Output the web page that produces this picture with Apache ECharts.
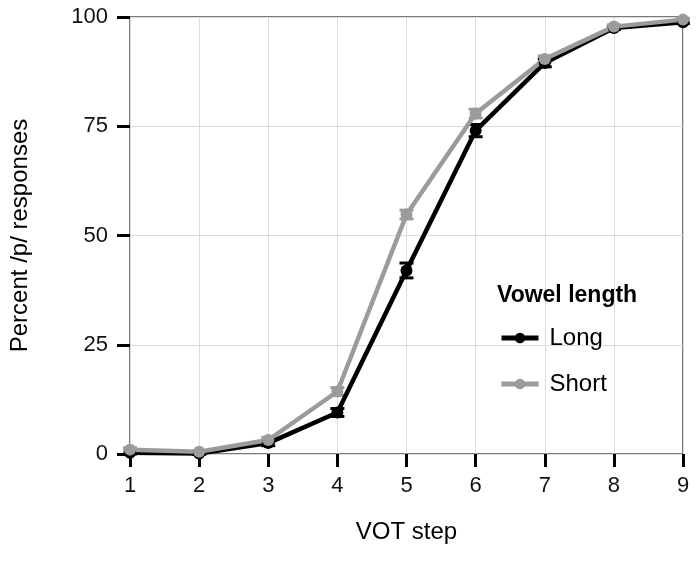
<!DOCTYPE html>
<html>
<head>
<meta charset="utf-8">
<script src="https://cdn.jsdelivr.net/npm/echarts@6/dist/echarts.min.js"></script>
<style>
  html, body { margin: 0; padding: 0; background: #fff; }
  #chart { width: 696px; height: 570px; }
</style>
</head>
<body>
<div id="chart"></div>
<script>
// VOT continuum steps
const steps = [1, 2, 3, 4, 5, 6, 7, 8, 9];
// percent /p/ responses per vowel length
const longVals = [0.3, 0.1, 2.5, 9.5, 42, 74, 89.5, 97.5, 98.8];
const shortVals = [1.0, 0.5, 3.2, 14.3, 54.8, 77.9, 90.4, 97.8, 99.4];
// standard error (half-length of bars)
const longErr = [0.3, 0.2, 0.6, 0.9, 1.7, 1.4, 0.9, 0.4, 0.3];
const shortErr = [0.4, 0.3, 0.6, 0.9, 1.0, 1.0, 0.7, 0.4, 0.3];
const yTicks = [0, 25, 50, 75, 100];

const FONT = 'Liberation Sans, Arial, sans-serif';
const BLACK = '#000000';
const GREY = '#9b9b9b';

const chart = echarts.init(document.getElementById('chart'));

function errorSeries(name, vals, errs, color) {
  return {
    name: name,
    type: 'custom',
    data: steps.map((s, i) => [s, vals[i] - errs[i], vals[i] + errs[i]]),
    encode: { x: 0, y: [1, 2] },
    renderItem: function (params, api) {
      const x = api.value(0);
      const lo = api.coord([x, api.value(1)]);
      const hi = api.coord([x, api.value(2)]);
      const half = 7;
      const style = { stroke: color, lineWidth: 3 };
      return {
        type: 'group',
        children: [
          { type: 'line', shape: { x1: lo[0], y1: lo[1], x2: hi[0], y2: hi[1] }, style: style },
          { type: 'line', shape: { x1: lo[0] - half, y1: lo[1], x2: lo[0] + half, y2: lo[1] }, style: style },
          { type: 'line', shape: { x1: hi[0] - half, y1: hi[1], x2: hi[0] + half, y2: hi[1] }, style: style }
        ]
      };
    },
    silent: true
  };
}

function lineSeries(name, vals, color) {
  return {
    name: name,
    type: 'line',
    data: steps.map((s, i) => [s, vals[i]]),
    symbol: 'circle',
    symbolSize: 12,
    clip: false,
    lineStyle: { color: color, width: 4.5 },
    itemStyle: { color: color },
    emphasis: { disabled: true }
  };
}

const option = {
  animation: false,
  backgroundColor: '#fff',
  textStyle: { fontFamily: FONT },
  title: {
    text: 'Vowel length',
    left: 497,
    top: 284,
    textStyle: { fontFamily: FONT, fontSize: 23, fontWeight: 'bold', color: '#000' },
    padding: 0
  },
  legend: {
    data: ['Long', 'Short'],
    orient: 'vertical',
    left: 499,
    top: 326,
    itemWidth: 37,
    itemHeight: 13,
    itemGap: 22,
    lineStyle: { width: 5 },
    textStyle: { fontFamily: FONT, fontSize: 24, color: '#000', padding: [0, 0, 0, 6] },
    padding: 0
  },
  grid: {
    left: 130,
    right: 13,
    top: 17,
    bottom: 116,
    show: true,
    borderColor: '#7a7a7a',
    borderWidth: 2
  },
  xAxis: {
    type: 'value',
    min: 1,
    max: 9,
    interval: 1,
    name: 'VOT step',
    nameLocation: 'middle',
    nameGap: 66,
    nameTextStyle: { fontFamily: FONT, fontSize: 24, color: '#000' },
    axisLine: { show: false },
    axisTick: { show: true, length: 13, lineStyle: { color: '#000', width: 3 } },
    axisLabel: { fontFamily: FONT, fontSize: 22, color: '#111', margin: 21 },
    splitLine: { show: true, lineStyle: { color: '#dcdcdc', width: 1 } }
  },
  yAxis: {
    type: 'value',
    min: 0,
    max: 100,
    interval: 25,
    name: 'Percent /p/ responses',
    nameLocation: 'middle',
    nameGap: 98,
    nameTextStyle: { fontFamily: FONT, fontSize: 24, color: '#000' },
    axisLine: { show: false },
    axisTick: { show: true, length: 13, lineStyle: { color: '#000', width: 3 } },
    axisLabel: {
      fontFamily: FONT, fontSize: 22, color: '#111', margin: 22,
      formatter: v => (yTicks.indexOf(v) >= 0 ? String(v) : '')
    },
    splitLine: { show: true, lineStyle: { color: '#dcdcdc', width: 1 } }
  },
  series: [
    errorSeries('Long SE', longVals, longErr, BLACK),
    lineSeries('Long', longVals, BLACK),
    errorSeries('Short SE', shortVals, shortErr, GREY),
    lineSeries('Short', shortVals, GREY)
  ]
};

chart.setOption(option);
window.addEventListener('resize', () => chart.resize());
</script>
</body>
</html>
